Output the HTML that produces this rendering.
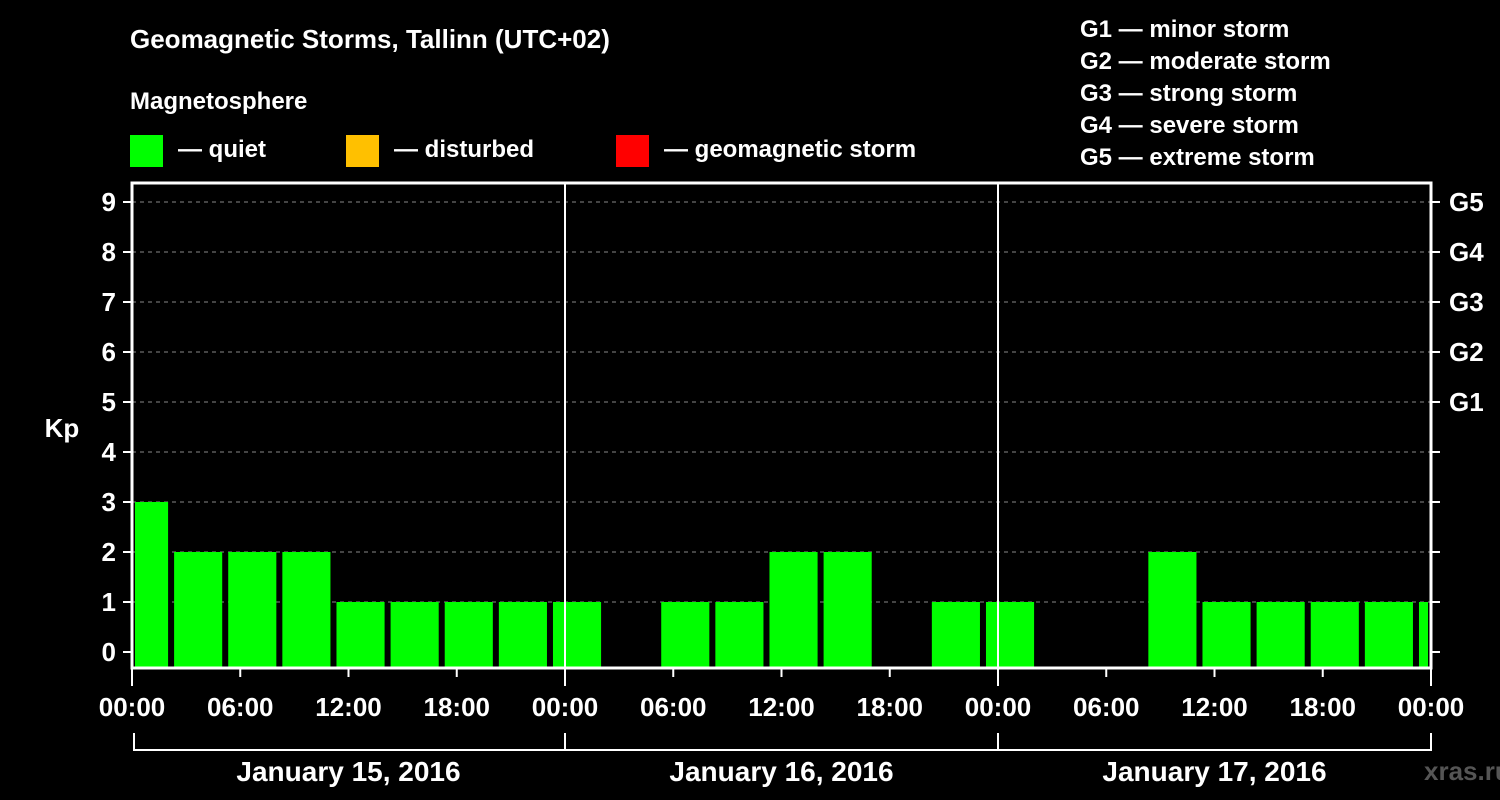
<!DOCTYPE html>
<html><head><meta charset="utf-8"><style>
html,body{margin:0;padding:0;background:#000;}
svg{display:block;font-family:"Liberation Sans",Arial,sans-serif;font-weight:bold;}
</style></head><body>
<svg id="chart" width="1500" height="800" viewBox="0 0 1500 800">
<rect x="0" y="0" width="1500" height="800" fill="#000"/>
<text x="130" y="48" fill="#fff" font-size="26">Geomagnetic Storms, Tallinn (UTC+02)</text>
<text x="130" y="109" fill="#fff" font-size="24">Magnetosphere</text>
<g><rect x="130" y="135" width="33" height="32" fill="#00ff00"/><text x="178" y="157" fill="#fff" font-size="24">— quiet</text></g>
<g><rect x="346" y="135" width="33" height="32" fill="#ffc000"/><text x="394" y="157" fill="#fff" font-size="24">— disturbed</text></g>
<g><rect x="616" y="135" width="33" height="32" fill="#ff0000"/><text x="664" y="157" fill="#fff" font-size="24">— geomagnetic storm</text></g>
<g fill="#fff" font-size="24">
<text x="1080" y="37">G1 — minor storm</text>
<text x="1080" y="69">G2 — moderate storm</text>
<text x="1080" y="101">G3 — strong storm</text>
<text x="1080" y="133">G4 — severe storm</text>
<text x="1080" y="165">G5 — extreme storm</text>
</g>
<text x="62" y="437" fill="#fff" font-size="26" text-anchor="middle">Kp</text>
<text x="1424" y="780" fill="#555" font-size="26">xras.ru</text>
<g id="grid"></g><g id="bars"></g><g id="axes"></g>
</svg>
<script>
const kpValues = [3,2,2,2,1,1,1,1,1,0,1,1,2,2,0,1,1,0,0,2,1,1,1,1,1];
const yTicks = [0,1,2,3,4,5,6,7,8,9];
const gLabels = ["G1","G2","G3","G4","G5"];
const xTickLabels = ["00:00","06:00","12:00","18:00","00:00","06:00","12:00","18:00","00:00","06:00","12:00","18:00","00:00"];
const dayLabels = ["January 15, 2016","January 16, 2016","January 17, 2016"];

const NS="http://www.w3.org/2000/svg";
const L=132,R=1431,T=183,B=668;
const x=h=>L+(R-L)*h/72;
const y=v=>652-50*v;
function mk(tag,attrs,parent,text){const e=document.createElementNS(NS,tag);for(const k in attrs)e.setAttribute(k,attrs[k]);if(text!==undefined)e.textContent=text;parent.appendChild(e);return e;}
const grid=document.getElementById('grid'),bars=document.getElementById('bars'),axes=document.getElementById('axes');

yTicks.forEach(v=>{
  if(v>0){const g=mk('line',{x1:L,x2:R,y1:y(v),y2:y(v),stroke:'#888','stroke-dasharray':'4,4','stroke-width':1},grid);
  
  }
  const t=mk('line',{x1:L-9,x2:L,y1:y(v),y2:y(v),stroke:'#fff','stroke-width':2},axes);
  
  
  const t2=mk('line',{x1:R,x2:R+9,y1:y(v),y2:y(v),stroke:'#fff','stroke-width':2},axes);
  
  
  const lb=mk('text',{x:L-16,y:y(v)+9,fill:'#fff','font-size':26,'text-anchor':'end'},axes,String(v));
  
  
});
gLabels.forEach((g,i)=>{
  const lb=mk('text',{x:R+18,y:y(i+5)+9,fill:'#fff','font-size':26},axes,g);
  
  
});
kpValues.forEach((v,k)=>{
  if(v<=0)return;
  let h0=3*k-2/3,h1=h0+8/3;
  let x0=Math.max(x(h0),L+3),x1=Math.min(x(h1),R-3);
  const col=v>=5?'#ff0000':(v>=4?'#ffc000':'#00ff00');
  const r=mk('rect',{x:x0,y:y(v),width:x1-x0,height:B-y(v),fill:col},bars);
  
  
});
[1,2].forEach(d=>{
  const l=mk('line',{x1:x(24*d),x2:x(24*d),y1:T,y2:B,stroke:'#fff','stroke-width':2},axes);
  
  
});
const f=mk('rect',{x:L,y:T,width:R-L,height:B-T,fill:'none',stroke:'#fff','stroke-width':3},axes);


xTickLabels.forEach((s,i)=>{
  const xx=x(6*i);
  const t=mk('line',{x1:xx,x2:xx,y1:B,y2:B+(i%4===0?18:9),stroke:'#fff','stroke-width':2},axes);
  
  
  const lb=mk('text',{x:xx,y:716,fill:'#fff','font-size':26,'text-anchor':'middle'},axes,s);
  
  
});
const br=mk('path',{d:`M${x(0)+2},733 V750 H${x(72)} V733 M${x(24)},733 V750 M${x(48)},733 V750`,stroke:'#fff','stroke-width':2,fill:'none'},axes);


dayLabels.forEach((s,i)=>{
  const lb=mk('text',{x:x(24*i+12),y:781,fill:'#fff','font-size':28,'text-anchor':'middle'},axes,s);
  
  
});
</script>
</body></html>
